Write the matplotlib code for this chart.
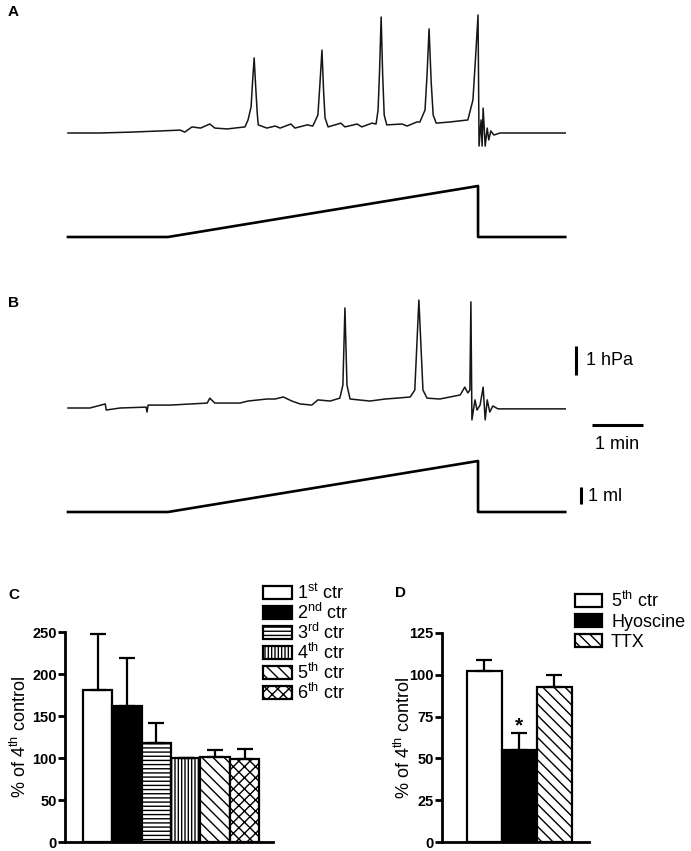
import numpy as np
import matplotlib
matplotlib.use('Agg')
import matplotlib.pyplot as plt
from matplotlib.patches import Patch

plt.rcParams['font.family'] = 'Liberation Sans'
plt.rcParams['mathtext.fontset'] = 'custom'
plt.rcParams['mathtext.rm'] = 'Liberation Sans'
plt.rcParams['mathtext.bf'] = 'Liberation Sans:bold'
plt.rcParams['hatch.linewidth'] = 1.0

# A - pressure trace (time in min, pressure in hPa above start baseline)
a_time = [0.00, 0.63, 1.22, 1.80, 2.20, 2.29, 2.43, 2.60, 2.78, 2.88, 3.12, 3.47, 3.53,
          3.59, 3.62, 3.65, 3.68, 3.71, 3.73, 3.90, 4.06, 4.16, 4.37, 4.45, 4.69, 4.80,
          4.90, 4.94, 4.98, 5.01, 5.04, 5.10, 5.35, 5.43, 5.67, 5.76, 5.96, 6.04, 6.08,
          6.11, 6.14, 6.17, 6.20, 6.25, 6.55, 6.65, 6.84, 6.90, 7.00, 7.04, 7.08, 7.12,
          7.16, 7.22, 7.49, 7.84, 7.94, 8.00, 8.04, 8.06, 8.10, 8.12, 8.14, 8.18, 8.22,
          8.25, 8.29, 8.35, 8.47, 9.75]
a_press = [0.00, 0.00, 0.03, 0.07, 0.10, 0.03, 0.21, 0.17, 0.31, 0.17, 0.14, 0.21, 0.45,
           0.90, 1.80, 2.59, 1.60, 0.70, 0.28, 0.17, 0.24, 0.17, 0.31, 0.17, 0.28, 0.24,
           0.62, 1.70, 2.86, 1.50, 0.52, 0.21, 0.34, 0.21, 0.31, 0.21, 0.34, 0.31, 0.79,
           2.20, 4.00, 2.00, 0.62, 0.28, 0.31, 0.24, 0.38, 0.38, 0.79, 2.00, 3.59, 1.80,
           0.62, 0.34, 0.38, 0.45, 1.14, 2.86, 4.07, -0.45, 0.45, -0.45, 0.86, -0.45, 0.17,
           -0.24, 0.07, -0.07, 0.00, 0.00]

# B - pressure trace
b_time = [0.00, 0.43, 0.73, 0.75, 1.02, 1.53, 1.55, 1.57, 2.00, 2.73, 2.78, 2.88, 3.37,
          3.53, 3.90, 4.06, 4.22, 4.39, 4.55, 4.78, 4.90, 5.14, 5.33, 5.39, 5.43, 5.47,
          5.53, 5.92, 6.22, 6.45, 6.71, 6.80, 6.88, 6.96, 7.04, 7.29, 7.69, 7.78, 7.84,
          7.88, 7.90, 7.92, 7.98, 8.02, 8.08, 8.14, 8.18, 8.22, 8.27, 8.33, 8.43, 9.75]
b_press = [0.00, 0.00, 0.14, -0.07, 0.00, 0.03, -0.14, 0.10, 0.10, 0.17, 0.34, 0.17, 0.17,
           0.24, 0.31, 0.31, 0.38, 0.24, 0.14, 0.10, 0.28, 0.24, 0.34, 0.79, 3.45, 0.79,
           0.31, 0.24, 0.31, 0.34, 0.38, 0.62, 3.72, 0.62, 0.34, 0.31, 0.45, 0.72, 0.52,
           0.62, 3.66, -0.41, 0.28, -0.07, 0.10, 0.72, -0.41, 0.28, -0.14, 0.07, -0.03, -0.03]

# infused volume (ml), same for A and B
ramp_time = [0.00, 1.96, 8.04, 8.04, 9.75]
ramp_vol = [0, 0, 3, 0, 0]

# C
c_labels = ['1$^{\\mathrm{st}}$ ctr', '2$^{\\mathrm{nd}}$ ctr', '3$^{\\mathrm{rd}}$ ctr',
            '4$^{\\mathrm{th}}$ ctr', '5$^{\\mathrm{th}}$ ctr', '6$^{\\mathrm{th}}$ ctr']
c_means = [181, 162, 118, 100, 101, 99]
c_sem = [67, 57, 24, 0, 8, 12]

# D
d_labels = ['5$^{\\mathrm{th}}$ ctr', 'Hyoscine', 'TTX']
d_means = [102, 55, 93]
d_sem = [7, 10, 7]

c_fill = ['white', 'black', 'white', 'white', 'white', 'white']
c_hatch = [None, None, '----', '|||||', '\\\\\\', 'xxx']
d_fill = ['white', 'black', 'white']
d_hatch = [None, None, '\\\\\\']

W, H = 691, 851
fig = plt.figure(figsize=(W / 100, H / 100), dpi=100)


def trace_axes(top, bottom, y_top, y_bottom):
    ax = fig.add_axes([0, 1 - bottom / H, 1, (bottom - top) / H])
    ax.set_xlim(-68 / 51, (W - 68) / 51)
    ax.set_ylim(y_bottom, y_top)
    ax.axis('off')
    return ax


axAp = trace_axes(0, 160, 133 / 29, -27 / 29)
axAv = trace_axes(165, 250, 72 / 17, -13 / 17)
axBp = trace_axes(270, 455, 138 / 29, -47 / 29)
axBv = trace_axes(455, 530, 57 / 17, -18 / 17)

axAp.plot(a_time, a_press, color='#151515', lw=1.1)
axBp.plot(b_time, b_press, color='#151515', lw=1.1)
for ax in (axAv, axBv):
    ax.plot(ramp_time, ramp_vol, color='black', lw=1.9)

# scale bars
axBp.plot([9.96, 9.96], [1.14, 2.14], color='black', lw=2.2, solid_capstyle='butt')
axBp.text(10.16, 1.64, '1 hPa', fontsize=13, va='center', ha='left')
axBp.plot([10.27, 11.27], [-0.59, -0.59], color='black', lw=2.2, solid_capstyle='butt')
axBp.text(10.77, -0.95, '1 min', fontsize=13, va='top', ha='center')
axBv.plot([10.06, 10.06], [0.47, 1.47], color='black', lw=2.2, solid_capstyle='butt')
axBv.text(10.2, 0.9, '1 ml', fontsize=13, va='center', ha='left')

for lab, x, y in [('A', 8, 12), ('B', 8, 303), ('C', 8, 595), ('D', 395, 593)]:
    fig.text(x / W, 1 - y / H, lab, fontsize=11, fontweight='bold', va='center', ha='left')


def bar_panel(rect, means, sem, fill, hatch, xlim, ymax, step, label_x):
    ax = fig.add_axes(rect)
    x = np.arange(len(means))
    bars = ax.bar(x, means, width=1, color=fill, edgecolor='black', linewidth=1.6, zorder=2)
    for b, h in zip(bars, hatch):
        if h:
            b.set_hatch(h)
    ax.errorbar(x, means, yerr=[np.zeros(len(sem)), sem], fmt='none', ecolor='black',
                elinewidth=1.6, capsize=6, capthick=1.6, zorder=3)
    ax.set_xlim(*xlim)
    ax.set_ylim(0, ymax)
    ax.set_yticks(np.arange(0, ymax + 1, step))
    ax.set_xticks([])
    ax.spines[['top', 'right']].set_visible(False)
    ax.spines[['left', 'bottom']].set_linewidth(2)
    ax.tick_params(axis='y', length=5, width=2, labelsize=10.5, pad=1)
    for t in ax.get_yticklabels():
        t.set_fontweight('bold')
    ax.set_ylabel('% of 4$^{\\mathrm{th}}$ control', fontsize=13)
    ax.yaxis.set_label_coords(label_x, 0.5)
    return ax


axC = bar_panel([65 / W, 1 - 842 / H, 208 / W, 210 / H], c_means, c_sem, c_fill, c_hatch,
                (-1.11, 5.97), 250, 50, -0.166)
axD = bar_panel([442 / W, 1 - 842 / H, 147 / W, 209 / H], d_means, d_sem, d_fill, d_hatch,
                (-1.21, 2.99), 125, 25, -0.19)
axD.text(1, d_means[1] + d_sem[1] - 1, '*', fontsize=15, fontweight='bold', ha='center', va='bottom')

hC = [Patch(facecolor=f, edgecolor='black', hatch=h, linewidth=1.6) for f, h in zip(c_fill, c_hatch)]
axC.legend(hC, c_labels, loc='upper left', bbox_to_anchor=(263 / W, 1 - 583 / H),
           bbox_transform=fig.transFigure, frameon=False, fontsize=13, handlelength=1.6,
           handleheight=0.7, handletextpad=0.3, labelspacing=0.0, borderpad=0, borderaxespad=0)
hD = [Patch(facecolor=f, edgecolor='black', hatch=h, linewidth=1.6) for f, h in zip(d_fill, d_hatch)]
axD.legend(hD, d_labels, loc='upper left', bbox_to_anchor=(575 / W, 1 - 591 / H),
           bbox_transform=fig.transFigure, frameon=False, fontsize=13, handlelength=1.5,
           handleheight=0.7, handletextpad=0.5, labelspacing=0.15, borderpad=0, borderaxespad=0)

fig.savefig('out.png', dpi=100)
